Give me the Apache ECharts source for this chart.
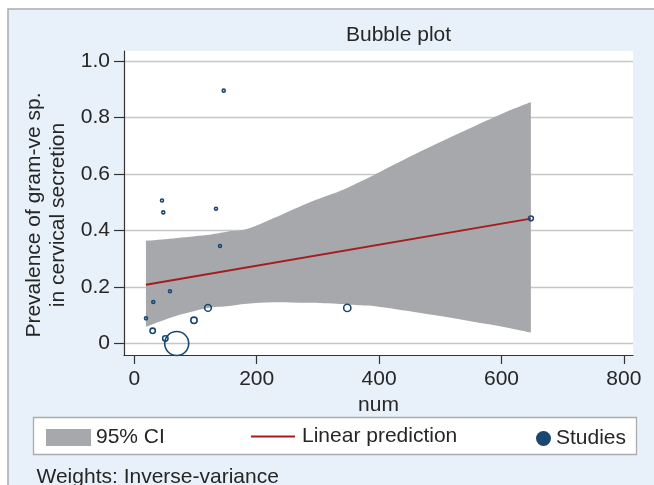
<!DOCTYPE html>
<html>
<head>
<meta charset="utf-8">
<script src="https://cdn.jsdelivr.net/npm/echarts@6/dist/echarts.min.js"></script>
<style>
html,body{margin:0;padding:0;background:#ffffff;}
#chart{width:654px;height:485px;}
</style>
</head>
<body>
<div id="chart"></div>
<script>
// ---- data ----
const studyX = [19.1, 31.0, 30.0, 45.3, 47.4, 50.7, 58.3, 69.3, 97.5, 120.4, 133.5, 140.0, 146.1, 348.0, 648.2];
const studyY = [0.089, 0.147, 0.045, 0.506, 0.464, 0.018, 0.185, 0.000, 0.082, 0.126, 0.477, 0.345, 0.895, 0.126, 0.443];
const studyW = [1, 1, 3.2, 1, 1, 3.2, 1, 64, 4.5, 5, 1, 1, 1, 5.8, 2.6];

const ciX    = [19, 64, 118, 151, 184, 227, 282, 336, 369, 391, 445, 500, 554, 608, 648];
const ciHigh = [0.364, 0.372, 0.384, 0.396, 0.405, 0.443, 0.496, 0.540, 0.573, 0.596, 0.656, 0.713, 0.767, 0.820, 0.855];
const ciLow  = [0.059, 0.095, 0.125, 0.132, 0.141, 0.146, 0.144, 0.140, 0.135, 0.133, 0.116, 0.097, 0.077, 0.057, 0.039];

const predX = [19, 648];
const predY = [0.208, 0.442];

const xTicks = [0, 200, 400, 600, 800];
const yTicks = [0, 0.2, 0.4, 0.6, 0.8, 1.0];
const yTickLabels = ['0', '0.2', '0.4', '0.6', '0.8', '1.0'];

const titleText = 'Bubble plot';
const xTitle = 'num';
const yTitle = 'Prevalence of gram-ve sp.\nin cervical secretion';
const noteText = 'Weights: Inverse-variance';
const legendNames = ['95% CI', 'Linear prediction', 'Studies'];

// ---- chart ----
const FONT = '"Liberation Sans", Arial, Helvetica, sans-serif';
const TXT = '#262626';
const BG = '#e8f0f9';
const NAVY = '#1a476f';
const RED = '#a51c1f';
const GREY = '#a7a8ab';

// smooth open curve (Catmull-Rom -> cubic Bezier) through pixel points
function curveSegs(pts) {
  let d = '';
  for (let i = 0; i < pts.length - 1; i++) {
    const p0 = pts[Math.max(i - 1, 0)], p1 = pts[i], p2 = pts[i + 1], p3 = pts[Math.min(i + 2, pts.length - 1)];
    const c1 = [p1[0] + (p2[0] - p0[0]) / 6, p1[1] + (p2[1] - p0[1]) / 6];
    const c2 = [p2[0] - (p3[0] - p1[0]) / 6, p2[1] - (p3[1] - p1[1]) / 6];
    d += ' C' + c1[0].toFixed(2) + ',' + c1[1].toFixed(2) + ' ' + c2[0].toFixed(2) + ',' + c2[1].toFixed(2) + ' ' + p2[0].toFixed(2) + ',' + p2[1].toFixed(2);
  }
  return d;
}

const chart = echarts.init(document.getElementById('chart'), null, {renderer: 'canvas'});

const option = {
  animation: false,
  backgroundColor: '#ffffff',
  textStyle: {fontFamily: FONT},
  title: {
    text: titleText,
    left: 346, top: 25, padding: 0,
    textStyle: {fontFamily: FONT, fontSize: 21, fontWeight: 'normal', color: TXT}
  },
  graphic: [
    {type: 'rect', z: -100, shape: {x: 8, y: 9, width: 700, height: 520},
     style: {fill: BG, stroke: '#a9abad', lineWidth: 1.5}},
    {type: 'rect', z: 1, shape: {x: 33.5, y: 417.5, width: 603, height: 37},
     style: {fill: '#ffffff', stroke: '#a9abad', lineWidth: 1.3}},
    {type: 'text', z: 1, x: 36.5, y: 477,
     style: {text: noteText, fill: TXT, font: '21px ' + FONT, textVerticalAlign: 'middle'}}
  ],
  legend: [
    {data: [legendNames[0]], left: 46, top: 427, padding: 0, itemWidth: 45, itemHeight: 17,
     icon: 'rect', textStyle: {fontSize: 21, color: TXT, fontFamily: FONT}, selectedMode: false},
    {data: [legendNames[1]], left: 251, top: 426, padding: 0, itemWidth: 44, itemHeight: 2,
     icon: 'rect', itemGap: 0, textStyle: {fontSize: 21, color: TXT, fontFamily: FONT, padding: [0, 0, 0, 2]}, selectedMode: false},
    {data: [{name: legendNames[2], icon: 'circle', itemStyle: {color: NAVY, borderWidth: 0, opacity: 1}}],
     left: 536, top: 428, padding: 0, itemWidth: 15, itemHeight: 15,
     textStyle: {fontSize: 21, color: TXT, fontFamily: FONT}, selectedMode: false}
  ],
  grid: {
    left: 124, right: 21, top: 51, height: 304,
    show: true, backgroundColor: '#ffffff', borderWidth: 0
  },
  xAxis: {
    type: 'value', min: -16.83, max: 814.9,
    name: xTitle, nameLocation: 'middle', nameGap: 39,
    nameTextStyle: {fontSize: 21, color: TXT, fontFamily: FONT},
    axisLine: {show: true, onZero: false, lineStyle: {color: '#333333', width: 1.2}},
    axisTick: {show: true, length: 9, customValues: xTicks, lineStyle: {color: '#333333', width: 1.2}},
    axisLabel: {customValues: xTicks, margin: 14, fontSize: 21, color: TXT, fontFamily: FONT},
    splitLine: {show: false}
  },
  yAxis: {
    type: 'value', min: -0.0407, max: 1.0354,
    name: yTitle, nameLocation: 'middle', nameGap: 52,
    nameTextStyle: {fontSize: 21, color: TXT, fontFamily: FONT, lineHeight: 24, align: 'center',
      padding: [0, 24, 0, 0]},
    axisLine: {show: true, onZero: false, lineStyle: {color: '#333333', width: 1.2}},
    axisTick: {show: true, length: 10, customValues: yTicks, lineStyle: {color: '#333333', width: 1.2}},
    axisLabel: {customValues: yTicks, margin: 14, fontSize: 21, color: TXT, fontFamily: FONT,
      formatter: function (v) {
        const i = yTicks.findIndex(t => Math.abs(t - v) < 1e-9);
        return i >= 0 ? yTickLabels[i] : '';
      }},
    splitLine: {show: true, lineStyle: {color: '#c6c6c6', width: 1.3}}
  },
  series: [
    {
      name: legendNames[0],
      type: 'custom',
      z: 2,
      itemStyle: {color: GREY},
      data: ciX.map((x, i) => [x, ciLow[i], ciHigh[i]]),
      encode: {x: 0, y: [1, 2]},
      renderItem: function (params, api) {
        if (params.dataIndex !== 0) return null;
        const up = ciX.map((x, i) => api.coord([x, ciHigh[i]]));
        const lo = ciX.map((x, i) => api.coord([x, ciLow[i]])).reverse();
        const d = 'M' + up[0][0].toFixed(2) + ',' + up[0][1].toFixed(2) + curveSegs(up) +
          ' L' + lo[0][0].toFixed(2) + ',' + lo[0][1].toFixed(2) + curveSegs(lo) + ' Z';
        return {type: 'path', shape: {pathData: d}, style: {fill: GREY}};
      }
    },
    {
      name: legendNames[1],
      type: 'line',
      z: 3,
      symbol: 'none',
      color: RED,
      itemStyle: {color: RED},
      lineStyle: {color: RED, width: 2},
      data: predX.map((x, i) => [x, predY[i]])
    },
    {
      name: legendNames[2],
      type: 'scatter',
      z: 4,
      data: studyX.map((x, i) => [x, studyY[i], studyW[i]]),
      symbol: 'circle',
      symbolSize: function (d) { return 3.0 * Math.sqrt(d[2]); },
      itemStyle: {color: 'rgba(0,0,0,0)', borderColor: NAVY, borderWidth: 1.6, opacity: 1}
    }
  ]
};
chart.setOption(option);
</script>
</body>
</html>
